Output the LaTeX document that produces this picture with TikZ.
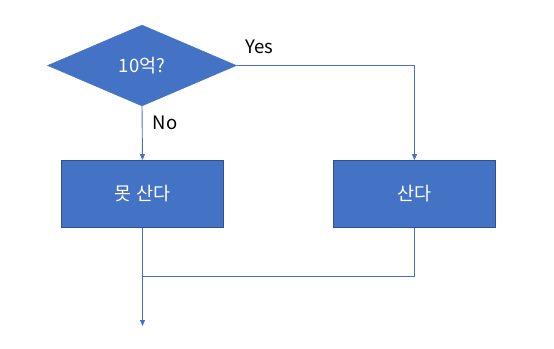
\documentclass[tikz,border=0pt]{standalone}
\usepackage{fontspec}
\setmainfont{Noto Sans CJK KR}
\usetikzlibrary{arrows.meta, positioning, shapes.geometric}
\definecolor{boxblue}{HTML}{4472C4}
\definecolor{edgeblue}{HTML}{2F528F}

\begin{document}
\begin{tikzpicture}[
    x=1pt, y=-1pt,
    every node/.style={font=\fontsize{18.5}{21}\selectfont},
    decision/.style={diamond, fill=boxblue, draw=boxblue, inner sep=0pt, minimum width=189pt, minimum height=81pt, text=white},
    box/.style={draw=edgeblue, fill=boxblue, line width=0.8pt, minimum width=162pt, minimum height=67pt, text=white},
    line/.style={draw=boxblue, line width=0.9pt},
    arrow/.style={line, -{Triangle[length=6pt, width=5pt]}}
]
    \useasboundingbox (0,0) rectangle (554,348);
    \node[decision] (q) at (142,65.5) {10억?};
    \node[box] (nobuy) at (142.5,194) {못 산다};
    \node[box] (buy) at (414.5,194) {산다};
    \coordinate (join) at (142.5,276);
    \coordinate (end) at (142.5,326);

    \node (yes) at (259,47) {Yes};
    \node (no) at (165,123) {No};

    \draw[arrow] (q.east) -| (buy.north);
    \draw[arrow] (q.south) -- (nobuy.north);
    \draw[line] (buy.south) |- (join);
    \draw[arrow] (nobuy.south) -- (end);
\end{tikzpicture}
\end{document}
